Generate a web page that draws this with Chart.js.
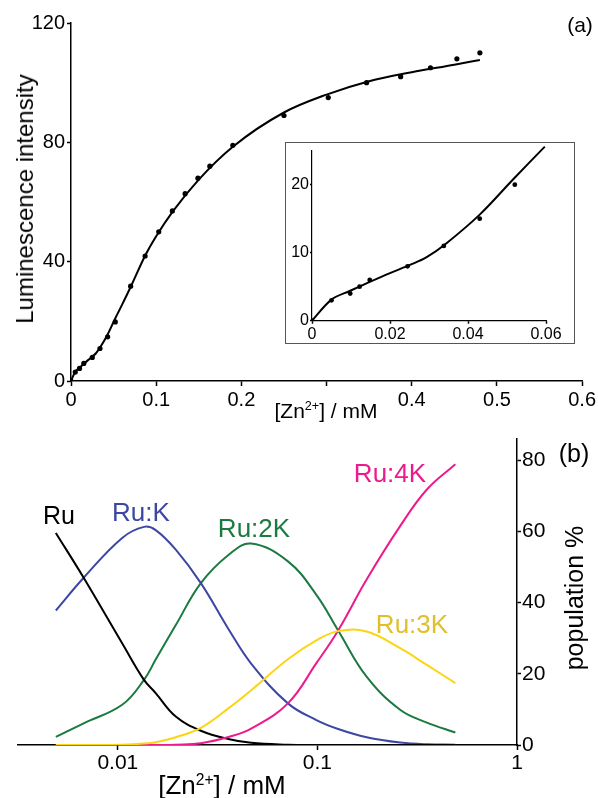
<!DOCTYPE html>
<html><head><meta charset="utf-8">
<script src="https://cdn.jsdelivr.net/npm/chart.js@4.4.0/dist/chart.umd.min.js"></script>
<style>
html,body{margin:0;padding:0;background:#fff;}
body{width:598px;height:798px;position:relative;overflow:hidden;font-family:"Liberation Sans",Arial,Helvetica,sans-serif;color:#000;}
canvas{position:absolute;display:block;}
.lbl{position:absolute;transform:translate(-50%,-50%);line-height:1;white-space:nowrap;}
.rot{transform:translate(-50%,-50%) rotate(-90deg);}
sup{font-size:0.6em;vertical-align:baseline;position:relative;top:-0.6em;}
#insetBox{position:absolute;left:285px;top:142px;width:288px;height:200px;border:1.5px solid #555;background:#fff;}
</style></head><body>
<canvas id="ca" width="598" height="420" style="left:0;top:0"></canvas>
<div id="insetBox"></div>
<canvas id="ci" width="290" height="216" style="left:286px;top:130px"></canvas>
<canvas id="cb" width="598" height="378" style="left:0;top:420px"></canvas>

<div class="lbl rot" style="left:25px;top:199px;font-size:24px">Luminescence intensity</div>
<div class="lbl" style="left:326px;top:410px;font-size:21px">[Zn<sup>2+</sup>] / mM</div>
<div class="lbl" style="left:580px;top:24px;font-size:21px">(a)</div>

<div class="lbl" style="left:59px;top:515px;font-size:25px;color:#000">Ru</div>
<div class="lbl" style="left:141px;top:512px;font-size:26px;color:#3b47a3">Ru:K</div>
<div class="lbl" style="left:254px;top:528px;font-size:26px;color:#1a7a40">Ru:2K</div>
<div class="lbl" style="left:390px;top:473px;font-size:26px;color:#ec1a8c">Ru:4K</div>
<div class="lbl" style="left:412px;top:624px;font-size:26px;color:#e0bf2a">Ru:3K</div>
<div class="lbl" style="left:574px;top:453px;font-size:25px">(b)</div>
<div class="lbl rot" style="left:574px;top:598px;font-size:25px">population %</div>
<div class="lbl" style="left:222px;top:785px;font-size:26px">[Zn<sup>2+</sup>] / mM</div>

<script>
// ---- panel (a): titration data ----
const mainConc = [0, 0.005, 0.010, 0.015, 0.025, 0.034, 0.043, 0.052, 0.070, 0.087, 0.103, 0.119, 0.134, 0.149, 0.163, 0.190, 0.250, 0.302, 0.347, 0.387, 0.422, 0.453, 0.480];
const mainLum  = [0, 3, 4.2, 5.9, 7.9, 10.9, 14.8, 19.8, 31.8, 41.9, 50, 57, 62.8, 68, 72, 79, 89, 95, 100, 102, 105, 108, 110];
const mainFitConc = [0, 0.005, 0.0098, 0.0148, 0.020, 0.0251, 0.0293, 0.0345, 0.043, 0.0516, 0.060, 0.070, 0.087, 0.100, 0.120, 0.150, 0.190, 0.250, 0.300, 0.350, 0.400, 0.450, 0.480];
const mainFitLum  = [0, 3.1, 4.4, 5.7, 7.0, 8.2, 9.3, 11.4, 15.6, 20.8, 25.6, 31.5, 42, 48.5, 57, 67.5, 78.5, 90, 96, 100.5, 103.5, 106, 107.6];
const mainXTicks = [0, 0.1, 0.2, 0.3, 0.4, 0.5, 0.6];
const mainYTicks = [0, 40, 80, 120];

// ---- inset ----
const insetConc = [0, 0.005, 0.0098, 0.0122, 0.0148, 0.0245, 0.0338, 0.043, 0.052];
const insetLum  = [0, 3, 4, 5, 6, 8, 11, 15, 20];
const insetFitConc = [0, 0.005, 0.0098, 0.0148, 0.020, 0.0251, 0.0293, 0.0345, 0.043, 0.0516, 0.0597];
const insetFitLum  = [0, 3.1, 4.4, 5.7, 7.0, 8.2, 9.3, 11.4, 15.6, 20.8, 25.6];
const insetXTicks = [0, 0.02, 0.04, 0.06];
const insetYTicks = [0, 10, 20];

// ---- panel (b): species distribution ----
const specConc = [0.00489, 0.00674, 0.01051, 0.01352, 0.01547, 0.01951, 0.02606, 0.03619, 0.04653, 0.07115, 0.0988, 0.1270, 0.1764, 0.2596, 0.3535, 0.491];
const popRu   = [59.6, 47, 28.6, 18.3, 14.6, 8.0, 4.0, 1.6, 0.6, 0.1, 0, 0, 0, 0, 0, 0];
const popRuK  = [37.8, 47, 58.2, 61.3, 60.4, 54.9, 45.5, 32.2, 22.9, 11.7, 7.0, 4.5, 2.2, 0.7, 0.2, 0.1];
const popRu2K = [2.3, 6.1, 11.3, 18.3, 24, 33.7, 45.5, 53.6, 56.6, 51.6, 42.2, 32.2, 19.2, 9.9, 6.3, 3.5];
const popRu3K = [0, 0, 0.1, 0.4, 0.8, 2.2, 4.8, 10.5, 15.4, 24.1, 29.4, 32.0, 31.9, 27.2, 22.5, 17.4];
const popRu4K = [0, 0, 0, 0, 0, 0.1, 0.5, 2.3, 4.6, 11.7, 23, 32.2, 46.5, 61.5, 71.8, 78.9];
const specXTicks = [0.01, 0.1, 1];
const specYTicks = [0, 20, 40, 60, 80];

const pts = (xs, ys) => xs.map((x, i) => ({x: x, y: ys[i]}));
const fixTicks = list => s => { s.ticks = list.map(v => ({value: v})); };

Chart.defaults.font.family = '"Liberation Sans", Arial, Helvetica, sans-serif';
Chart.defaults.color = '#000';
Chart.defaults.animation = false;

const axisGrid = (len) => ({drawOnChartArea: false, drawTicks: true, tickLength: len, tickWidth: 1.5, tickColor: '#000'});
const axisBorder = {display: true, color: '#000', width: 1.5};
const noPlugins = {legend: {display: false}, tooltip: {enabled: false}};

// panel (a)
new Chart(document.getElementById('ca'), {
  type: 'scatter',
  data: {datasets: [
    {data: pts(mainFitConc, mainFitLum), showLine: true, pointRadius: 0, borderColor: '#000', borderWidth: 2, cubicInterpolationMode: 'monotone', fill: false},
    {data: pts(mainConc, mainLum), showLine: false, pointRadius: 2.6, pointBackgroundColor: '#000', pointBorderWidth: 0, borderColor: '#000'}
  ]},
  options: {
    responsive: false, animation: false, events: [],
    layout: {padding: {left: 0, right: 14, top: 23, bottom: 0}},
    plugins: noPlugins,
    scales: {
      x: {type: 'linear', min: 0, max: 0.6, afterBuildTicks: fixTicks(mainXTicks), afterFit: s => { s.height = 39; },
          grid: axisGrid(5), border: axisBorder,
          ticks: {font: {size: 20}, padding: 2, maxRotation: 0, autoSkip: false,
                  callback: v => (Math.abs(v - 0.3) < 1e-9 ? '' : String(v))}},
      y: {type: 'linear', min: 0, max: 120, afterBuildTicks: fixTicks(mainYTicks), afterFit: s => { s.width = 71; },
          grid: axisGrid(4), border: axisBorder,
          ticks: {font: {size: 20}, padding: 2, callback: v => String(v)}}
    }
  }
});

// inset
new Chart(document.getElementById('ci'), {
  type: 'scatter',
  data: {datasets: [
    {data: pts(insetFitConc, insetFitLum), showLine: true, pointRadius: 0, borderColor: '#000', borderWidth: 2, tension: 0.35, fill: false, clip: 6},
    {data: pts(insetConc, insetLum), showLine: false, pointRadius: 2.4, pointBackgroundColor: '#000', pointBorderWidth: 0, borderColor: '#000'}
  ]},
  options: {
    responsive: false, animation: false, events: [],
    layout: {padding: {left: 0, right: 30, top: 20.7, bottom: 0}},
    plugins: noPlugins,
    scales: {
      x: {type: 'linear', min: 0, max: 0.06, afterBuildTicks: fixTicks(insetXTicks), afterFit: s => { s.height = 25.3; },
          grid: axisGrid(3), border: {display: true, color: '#000', width: 1.2},
          ticks: {font: {size: 16}, padding: 1, maxRotation: 0, autoSkip: false, callback: v => String(v)}},
      y: {type: 'linear', min: 0, max: 25, afterBuildTicks: fixTicks(insetYTicks), afterFit: s => { s.width = 26; },
          grid: axisGrid(2), border: {display: true, color: '#000', width: 1.2},
          ticks: {font: {size: 16}, padding: 1, callback: v => String(v)}}
    }
  }
});

// panel (b)
const spec = (ys, color) => ({data: pts(specConc, ys), showLine: true, pointRadius: 0, borderColor: color, borderWidth: 2, tension: 0.4, fill: false});
new Chart(document.getElementById('cb'), {
  type: 'scatter',
  data: {datasets: [
    spec(popRu3K, '#fcd512'),
    spec(popRu4K, '#ec1a8c'),
    spec(popRu, '#000000'),
    spec(popRuK, '#3b47a3'),
    spec(popRu2K, '#1a7a40')
  ]},
  options: {
    responsive: false, animation: false, events: [],
    layout: {padding: {left: 18, right: 0, top: 19, bottom: 0}},
    plugins: noPlugins,
    scales: {
      x: {type: 'logarithmic', min: 0.00316, max: 1, afterBuildTicks: fixTicks(specXTicks), afterFit: s => { s.height = 53; },
          grid: axisGrid(5), border: axisBorder,
          ticks: {font: {size: 21}, padding: 1, maxRotation: 0, autoSkip: false, callback: v => String(v)}},
      y: {type: 'linear', position: 'right', min: 0, max: 86, afterBuildTicks: fixTicks(specYTicks), afterFit: s => { s.width = 81; },
          grid: axisGrid(4), border: axisBorder,
          ticks: {font: {size: 21}, padding: 1, callback: v => String(v)}}
    }
  }
});
</script>
</body></html>
